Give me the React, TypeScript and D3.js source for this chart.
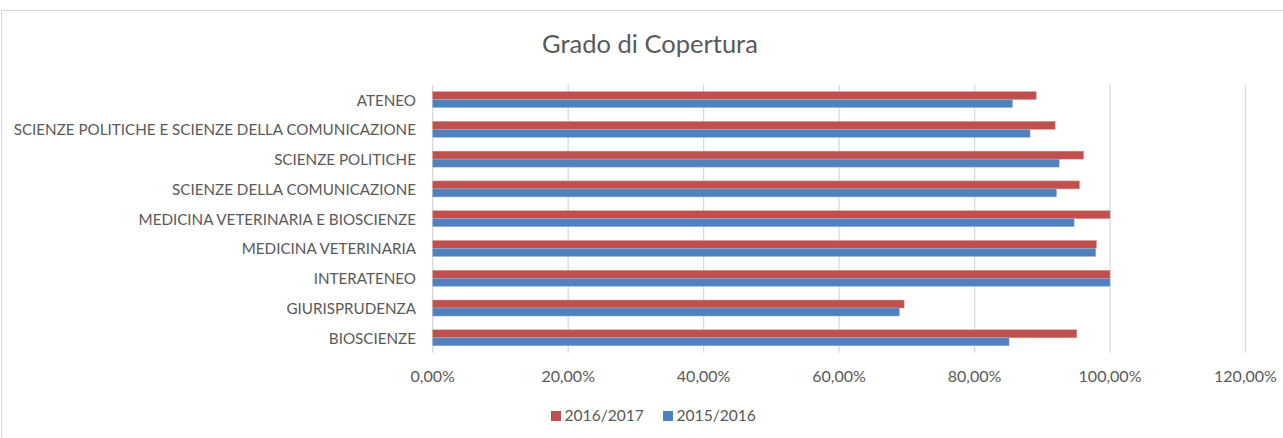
import React from 'react';
import * as d3 from 'd3';

const categories = [
  'ATENEO',
  'SCIENZE POLITICHE E SCIENZE DELLA COMUNICAZIONE',
  'SCIENZE POLITICHE',
  'SCIENZE DELLA COMUNICAZIONE',
  'MEDICINA VETERINARIA E BIOSCIENZE',
  'MEDICINA VETERINARIA',
  'INTERATENEO',
  'GIURISPRUDENZA',
  'BIOSCIENZE',
];
const values1617 = [0.891, 0.919, 0.961, 0.955, 1.0, 0.98, 1.0, 0.696, 0.951];
const values1516 = [0.856, 0.882, 0.925, 0.921, 0.947, 0.979, 1.0, 0.689, 0.851];
const xTicks = [0, 0.2, 0.4, 0.6, 0.8, 1.0, 1.2];
const seriesNames = ['2016/2017', '2015/2016'];
const colors = ['#C0504D', '#4F81BD'];

const W = 1283;
const H = 438;
const FONT = 'Lato, "Open Sans", sans-serif';

export default function App() {
  const x = d3.scaleLinear().domain([0, 1.2]).range([432.7, 1245.5]);
  const y = d3.scaleBand().domain(categories).range([84.7, 352.7]);
  const bh = 8;
  const fmt = (v: number) => (v * 100).toFixed(2).replace('.', ',') + '%';
  const legendX = [551, 663];

  return (
    <svg width={W} height={H} style={{ position: 'absolute', left: 0, top: 0 }} fontFamily={FONT}>
      <rect x={0} y={0} width={W} height={H} fill="#fff" />
      <rect x={1.5} y={10.5} width={W + 10} height={H + 10} fill="#fff" stroke="#D9D9D9" />
      <text x={650} y={53} textAnchor="middle" fontSize={25.5} fill="#595959">Grado di Copertura</text>

      {xTicks.map(t => (
        <line key={t} x1={x(t)} x2={x(t)} y1={84.7} y2={352.7} stroke="#D9D9D9" strokeWidth={1.3} />
      ))}

      {categories.map((c, i) => {
        const cy = (y(c) as number) + y.bandwidth() / 2;
        return (
          <g key={c}>
            <rect x={x(0)} y={cy - bh} width={x(values1617[i]) - x(0)} height={bh} fill={colors[0]} stroke="#D99A98" strokeWidth={0.5} />
            <rect x={x(0)} y={cy} width={x(values1516[i]) - x(0)} height={bh} fill={colors[1]} stroke="#9DB6D8" strokeWidth={0.5} />
            <text x={416} y={cy + 6} textAnchor="end" fontSize={15.2} fill="#595959">{c}</text>
          </g>
        );
      })}

      {xTicks.map(t => (
        <text key={t} x={x(t)} y={381.5} textAnchor="middle" fontSize={16} fill="#595959">{fmt(t)}</text>
      ))}

      {seriesNames.map((s, i) => (
        <g key={s}>
          <rect x={legendX[i]} y={411} width={10} height={10} fill={colors[i]} />
          <text x={legendX[i] + 13.5} y={421} fontSize={15.6} fill="#595959">{s}</text>
        </g>
      ))}
    </svg>
  );
}
